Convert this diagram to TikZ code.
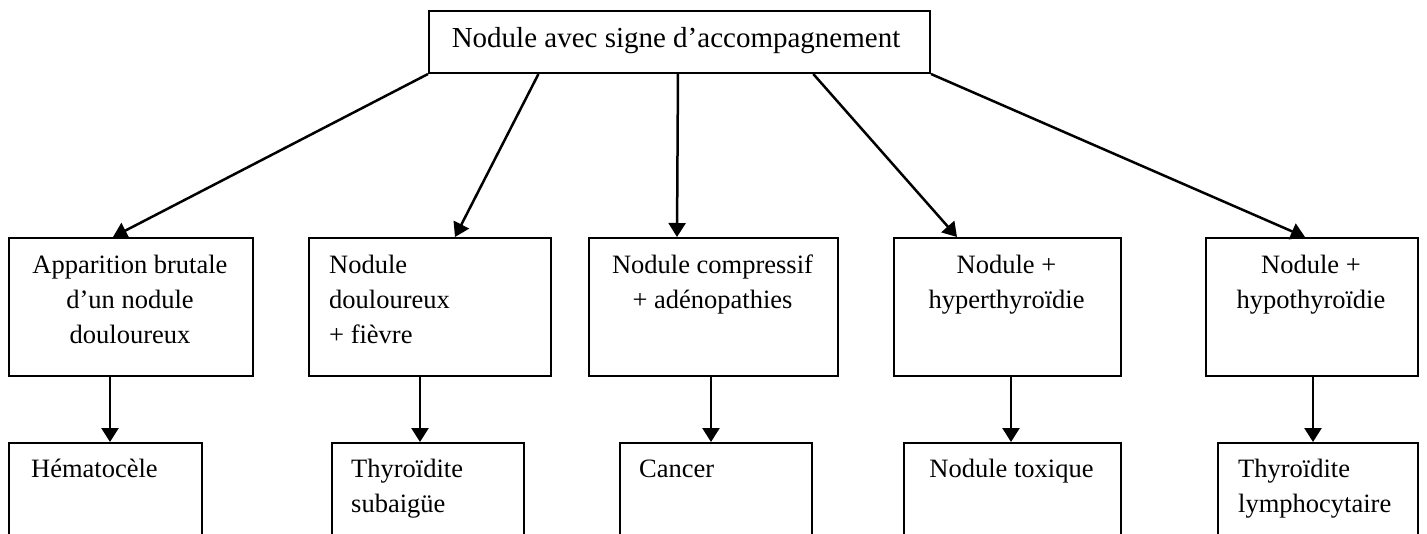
\documentclass[tikz,border=0pt]{standalone}
\usepackage{fontspec}
\setmainfont{Liberation Serif}
\usetikzlibrary{arrows.meta,calc}
\tikzset{
  box/.style={draw, line width=2pt, rectangle, inner sep=0pt, anchor=north west},
  arr/.style={line width=2.5pt, -{Triangle[length=14pt,width=17pt]}},
  ctxt/.style={inner sep=0pt, anchor=base, font=\fontsize{26.5}{35}\selectfont},
  ltxt/.style={inner sep=0pt, anchor=base west, font=\fontsize{26.5}{35}\selectfont},
}
\begin{document}
\begin{tikzpicture}[x=1pt,y=-1pt]
\useasboundingbox (0,0) rectangle (1427,533);
\clip (0,0) rectangle (1427,533);
% top box
\node[box, minimum width=501pt, minimum height=62pt] (top) at (428,10) {};
\node[inner sep=0pt, anchor=base, font=\fontsize{29}{35}\selectfont] (ttop) at (676,47) {Nodule avec signe d’accompagnement};
% middle boxes
\node[box, minimum width=244pt, minimum height=138pt] (m1) at (8,237) {};
\node[box, minimum width=242pt, minimum height=138pt] (m2) at (308,237) {};
\node[box, minimum width=249pt, minimum height=138pt] (m3) at (588,237) {};
\node[box, minimum width=227pt, minimum height=138pt] (m4) at (893,237) {};
\node[box, minimum width=212pt, minimum height=138pt] (m5) at (1205,237) {};
% bottom boxes
\node[box, minimum width=193pt, minimum height=140pt] (b1) at (8,442) {};
\node[box, minimum width=192pt, minimum height=140pt] (b2) at (331,442) {};
\node[box, minimum width=192pt, minimum height=140pt] (b3) at (619,442) {};
\node[box, minimum width=217pt, minimum height=140pt] (b4) at (903,442) {};
\node[box, minimum width=200pt, minimum height=140pt] (b5) at (1217,442) {};
% middle texts
\node[ctxt] (tm1) at (130,273) {\parbox[t]{240pt}{\centering Apparition brutale\\d’un nodule\\douloureux}};
\node[ltxt] (tm2) at (329,273) {\parbox[t]{210pt}{\raggedright Nodule\\douloureux\\+ fièvre}};
\node[ctxt] (tm3) at (712.5,273) {\parbox[t]{245pt}{\centering Nodule compressif\\+ adénopathies}};
\node[ctxt] (tm4) at (1006.5,273) {\parbox[t]{225pt}{\centering Nodule +\\hyperthyroïdie}};
\node[ctxt] (tm5) at (1311,273) {\parbox[t]{210pt}{\centering Nodule +\\hypothyroïdie}};
% bottom texts
\node[ltxt] (tb1) at (31,477) {Hématocèle};
\node[ltxt] (tb2) at (351,477) {\parbox[t]{170pt}{\raggedright Thyroïdite\\subaigüe}};
\node[ltxt] (tb3) at (639,477) {Cancer};
\node[ctxt] (tb4) at (1011.5,477) {Nodule toxique};
\node[ltxt] (tb5) at (1238,477) {\parbox[t]{178pt}{\raggedright Thyroïdite\\lymphocytaire}};
% arrows from top
\draw[arr] (top.south west) -- ($(m1.north west)+(105,0)$);
\draw[arr] ($(top.south west)!0.2196!(top.south east)$) -- ($(m2.north west)+(147,0)$);
\draw[arr] ($(top.south west)!0.497!(top.south east)$) -- ($(m3.north west)+(89,0)$);
\draw[arr] ($(top.south west)!0.766!(top.south east)$) -- ($(m4.north west)+(64,0)$);
\draw[arr] (top.south east) -- ($(m5.north west)+(100,0)$);
% vertical arrows
\coordinate (v1) at (110,442);
\coordinate (v2) at (420,442);
\coordinate (v3) at (711,442);
\coordinate (v4) at (1011,442);
\coordinate (v5) at (1313,442);
\draw[arr] (m1.south -| v1) -- (v1);
\draw[arr] (m2.south -| v2) -- (v2);
\draw[arr] (m3.south -| v3) -- (v3);
\draw[arr] (m4.south -| v4) -- (v4);
\draw[arr] (m5.south -| v5) -- (v5);
\end{tikzpicture}
\end{document}
